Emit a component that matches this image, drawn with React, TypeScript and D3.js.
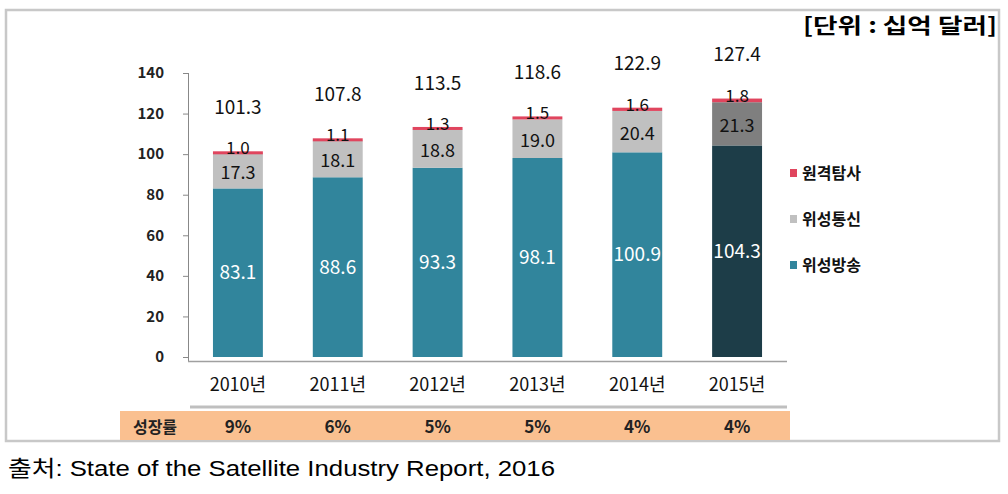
import React from "react";
import * as d3 from "d3";

const years = ["2010년", "2011년", "2012년", "2013년", "2014년", "2015년"];
const broadcast = [83.1, 88.6, 93.3, 98.1, 100.9, 104.3];
const comm = [17.3, 18.1, 18.8, 19.0, 20.4, 21.3];
const remote = [1.0, 1.1, 1.3, 1.5, 1.6, 1.8];
const totals = [101.3, 107.8, 113.5, 118.6, 122.9, 127.4];
const growth = ["9%", "6%", "5%", "5%", "4%", "4%"];
const yTicks = [0, 20, 40, 60, 80, 100, 120, 140];
const seriesNames = ["원격탐사", "위성통신", "위성방송"];

const KR = "'Noto Sans CJK KR', 'Noto Sans', sans-serif";

export default function App() {
  const x = d3.scaleBand<string>().domain(years).range([188, 787]).paddingInner(0.5).paddingOuter(0.25);
  const y = d3.scaleLinear().domain([0, 140]).range([357, 73]);
  const bw = x.bandwidth();

  const colB = (i: number) => (i === 5 ? "#1D3D48" : "#31859C");
  const colC = (i: number) => (i === 5 ? "#7F7F7F" : "#C0C0C0");
  const colR = "#E0455E";
  const legendColors = [colR, "#C0C0C0", "#31859C"];

  return (
    <svg width={1008} height={494} style={{ position: "absolute", left: 0, top: 0, background: "#fff" }}>
      {/* outer frame */}
      <rect x={6} y={10} width={993} height={431} fill="none" stroke="#C8C8C8" strokeWidth={2.5} />
      <text x={997} y={33} textAnchor="end" fontFamily={KR} fontWeight={700} fontSize={21} textLength={194} lengthAdjust="spacingAndGlyphs" fill="#000">
        [단위 : 십억 달러]
      </text>

      {/* y axis */}
      <line x1={188.5} x2={188.5} y1={y(140)} y2={361} stroke="#888" strokeWidth={1} />
      {yTicks.map((t) => (
        <g key={t}>
          <line x1={183} x2={188.5} y1={y(t) + 0.5} y2={y(t) + 0.5} stroke="#888" />
          <text x={164} y={y(t)} dy="0.35em" textAnchor="end" fontFamily={KR} fontWeight={700} fontSize={15} fill="#222">
            {t}
          </text>
        </g>
      ))}
      {/* x axis */}
      <line x1={188} x2={787} y1={361.5} y2={361.5} stroke="#A0A0A0" strokeWidth={1.5} />

      {/* bars */}
      {years.map((yr, i) => {
        const x0 = x(yr)!;
        const cx = x0 + bw / 2;
        const b0 = 0, b1 = broadcast[i], c1 = b1 + comm[i], r1 = c1 + remote[i];
        return (
          <g key={yr}>
            <rect x={x0} y={y(b1)} width={bw} height={y(b0) - y(b1)} fill={colB(i)} />
            <rect x={x0} y={y(c1)} width={bw} height={y(b1) - y(c1)} fill={colC(i)} />
            <rect x={x0} y={y(r1)} width={bw} height={Math.max(3, y(c1) - y(r1))} fill={colR} />
            <text x={cx} y={(y(b0) + y(b1)) / 2} dy="0.35em" textAnchor="middle" fontFamily={KR} fontSize={19} fill="#fff">
              {broadcast[i].toFixed(1)}
            </text>
            <text x={cx} y={(y(b1) + y(c1)) / 2 + 2} dy="0.35em" textAnchor="middle" fontFamily={KR} fontSize={18} fill="#111">
              {comm[i].toFixed(1)}
            </text>
            <text x={cx} y={y(r1) - 3} dy="0.35em" textAnchor="middle" fontFamily={KR} fontSize={17} fill="#111">
              {remote[i].toFixed(1)}
            </text>
            <text x={cx} y={y(r1) - 44} dy="0.35em" textAnchor="middle" fontFamily={KR} fontSize={19} fill="#111">
              {totals[i].toFixed(1)}
            </text>
            <text x={cx} y={385} dy="0.35em" textAnchor="middle" fontFamily={KR} fontSize={18} fill="#111">
              {yr}
            </text>
          </g>
        );
      })}

      {/* legend */}
      {seriesNames.map((n, k) => {
        const ly = 173 + k * 46;
        return (
          <g key={n}>
            <rect x={790} y={ly - 4} width={7} height={8} fill={legendColors[k]} />
            <text x={802} y={ly} dy="0.35em" fontFamily={KR} fontWeight={700} fontSize={16} fill="#111">
              {n}
            </text>
          </g>
        );
      })}

      {/* growth row */}
      <line x1={190} x2={787} y1={407} y2={407} stroke="#BFBFBF" strokeWidth={3} />
      <rect x={120} y={411} width={670} height={29} fill="#FAC090" />
      <text x={155} y={427} dy="0.35em" textAnchor="middle" fontFamily={KR} fontWeight={700} fontSize={16} fill="#222">
        성장률
      </text>
      {years.map((yr, i) => (
        <text key={yr} x={x(yr)! + bw / 2} y={427} dy="0.35em" textAnchor="middle" fontFamily={KR} fontWeight={700} fontSize={17} fill="#222">
          {growth[i]}
        </text>
      ))}

      {/* source */}
      <text x={8} y={476} fontFamily="'Liberation Sans', Arial, 'Noto Sans CJK KR', sans-serif" fontSize={22} textLength={547} lengthAdjust="spacingAndGlyphs" fill="#000">
        출처: State of the Satellite Industry Report, 2016
      </text>
    </svg>
  );
}
